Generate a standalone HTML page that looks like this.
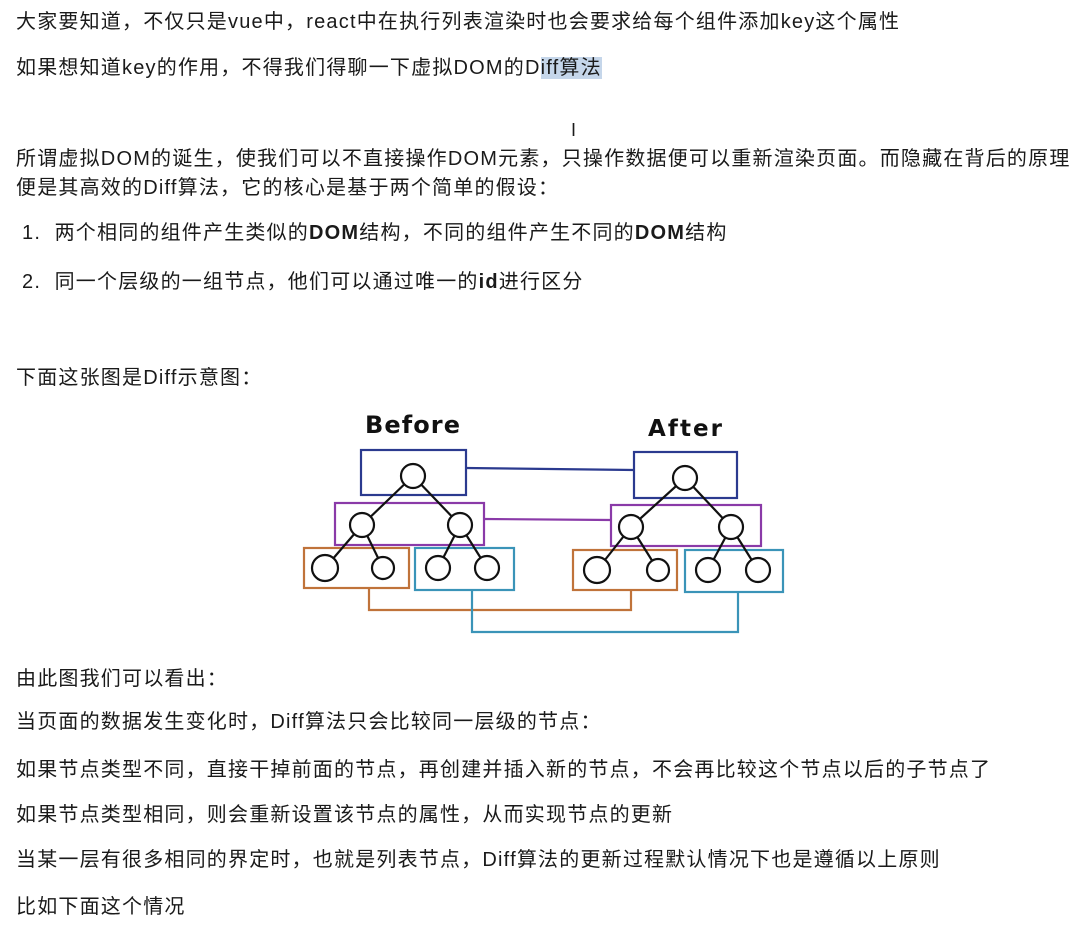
<!DOCTYPE html>
<html><head><meta charset="utf-8"><style>
html,body{margin:0;padding:0;background:#fff;width:1089px;height:929px;overflow:hidden}
.t{position:absolute;left:16px;white-space:nowrap;font-family:"Liberation Sans","Noto Sans CJK SC",sans-serif;font-size:20px;letter-spacing:1.2px;color:#1a1a1a;line-height:24px;margin-top:2px}
.hl{background:#c5d6ea}
b{font-weight:bold}
</style></head><body>
<div class="t" style="top:8px">大家要知道，不仅只是vue中，react中在执行列表渲染时也会要求给每个组件添加key这个属性</div>
<div class="t" style="top:54px">如果想知道key的作用，不得我们得聊一下虚拟DOM的D<span class="hl">iff算法</span></div>
<div class="t" style="top:116px;left:571px;font-size:18px">I</div>
<div class="t" style="top:145px">所谓虚拟DOM的诞生，使我们可以不直接操作DOM元素，只操作数据便可以重新渲染页面。而隐藏在背后的原理</div>
<div class="t" style="top:174px">便是其高效的Diff算法，它的核心是基于两个简单的假设：</div>
<div class="t" style="top:219px;left:22px">1.&nbsp; 两个相同的组件产生类似的<b>DOM</b>结构，不同的组件产生不同的<b>DOM</b>结构</div>
<div class="t" style="top:268px;left:22px">2.&nbsp; 同一个层级的一组节点，他们可以通过唯一的<b>id</b>进行区分</div>
<div class="t" style="top:364px">下面这张图是Diff示意图：</div>
<svg style="position:absolute;left:0;top:0" width="1089" height="929">
<g fill="none" stroke-width="2.2">
<text x="365" y="433" font-family="'DejaVu Sans',sans-serif" font-weight="bold" font-size="24" fill="#111" stroke="none" textLength="95">Before</text>
<text x="648" y="436" font-family="'DejaVu Sans',sans-serif" font-weight="bold" font-size="23" fill="#111" stroke="none" textLength="74">After</text>
<g stroke="#2b3a8f"><rect x="361" y="450" width="105" height="45"/><rect x="634" y="452" width="103" height="46"/><line x1="466" y1="468" x2="634" y2="470"/></g>
<g stroke="#8a3aa8"><rect x="335" y="503" width="149" height="42"/><rect x="611" y="505" width="150" height="41"/><line x1="484" y1="519" x2="611" y2="520"/></g>
<g stroke="#c0733a"><rect x="304" y="548" width="105" height="40"/><rect x="573" y="550" width="104" height="40"/><polyline points="369,588 369,610 631,610 631,590"/></g>
<g stroke="#3a94b8"><rect x="415" y="548" width="99" height="42"/><rect x="685" y="550" width="98" height="42"/><polyline points="472,590 472,632 738,632 738,592"/></g>
<g stroke="#111">
<line x1="413" y1="476" x2="362" y2="525"/><line x1="413" y1="476" x2="460" y2="525"/>
<line x1="362" y1="525" x2="325" y2="568"/><line x1="362" y1="525" x2="383" y2="568"/>
<line x1="460" y1="525" x2="438" y2="568"/><line x1="460" y1="525" x2="487" y2="568"/>
<line x1="685" y1="478" x2="631" y2="527"/><line x1="685" y1="478" x2="731" y2="527"/>
<line x1="631" y1="527" x2="597" y2="570"/><line x1="631" y1="527" x2="658" y2="570"/>
<line x1="731" y1="527" x2="708" y2="570"/><line x1="731" y1="527" x2="758" y2="570"/>
<g fill="#fff">
<circle cx="413" cy="476" r="12"/><circle cx="362" cy="525" r="12"/><circle cx="460" cy="525" r="12"/>
<circle cx="325" cy="568" r="13"/><circle cx="383" cy="568" r="11"/><circle cx="438" cy="568" r="12"/><circle cx="487" cy="568" r="12"/>
<circle cx="685" cy="478" r="12"/><circle cx="631" cy="527" r="12"/><circle cx="731" cy="527" r="12"/>
<circle cx="597" cy="570" r="13"/><circle cx="658" cy="570" r="11"/><circle cx="708" cy="570" r="12"/><circle cx="758" cy="570" r="12"/>
</g></g></g></svg>
<div class="t" style="top:665px">由此图我们可以看出：</div>
<div class="t" style="top:708px">当页面的数据发生变化时，Diff算法只会比较同一层级的节点：</div>
<div class="t" style="top:756px">如果节点类型不同，直接干掉前面的节点，再创建并插入新的节点，不会再比较这个节点以后的子节点了</div>
<div class="t" style="top:801px">如果节点类型相同，则会重新设置该节点的属性，从而实现节点的更新</div>
<div class="t" style="top:846px">当某一层有很多相同的界定时，也就是列表节点，Diff算法的更新过程默认情况下也是遵循以上原则</div>
<div class="t" style="top:893px">比如下面这个情况</div>
</body></html>
